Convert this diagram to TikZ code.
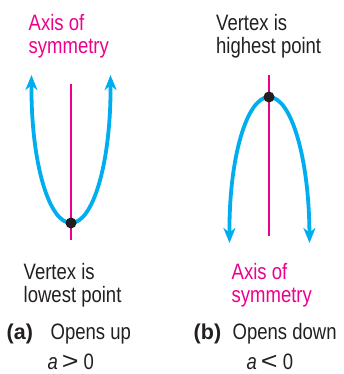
\documentclass[tikz,border=0pt]{standalone}
\usepackage{fontspec}
\setmainfont{Liberation Sans}
\newfontfamily\cf[FakeStretch=0.83]{Liberation Sans}
\usetikzlibrary{arrows.meta}
\definecolor{mag}{HTML}{EC008C}
\definecolor{cy}{HTML}{00AEEF}
\definecolor{ink}{HTML}{231F20}
\begin{document}
\begin{tikzpicture}[x=1pt,y=-1pt,
  txt/.style={anchor=base west, inner sep=0pt, font=\cf\fontsize{22.3}{23}\selectfont, text=ink},
  mtxt/.style={txt, text=mag},
  btxt/.style={txt, font=\bfseries\fontsize{21.5}{23}\selectfont},
  axisline/.style={draw=mag, line width=1.3pt},
  arm/.style={draw=cy, line width=3.8pt, -{Stealth[length=15pt,width=12pt,inset=4.5pt]}},
  vdot/.style={circle, fill=ink, inner sep=0pt, minimum size=11pt}]
\useasboundingbox (0,0) rectangle (344,374);

% ---- left parabola (opens up)
\coordinate (a1t) at (71,84);
\coordinate (a1b) at (71,240);
\draw[axisline] (a1t) -- (a1b);
\coordinate (v1) at (71,223);
\coordinate (t1l) at (31.5,75);
\coordinate (t1r) at (110.5,75);
\draw[arm] (v1) .. controls (49,223) and (31,163) .. (t1l);
\draw[arm] (v1) .. controls (93,223) and (111,163) .. (t1r);
\node[vdot] (d1) at (v1) {};

% ---- right parabola (opens down)
\coordinate (a2t) at (269,75);
\coordinate (a2b) at (269,236);
\draw[axisline] (a2t) -- (a2b);
\coordinate (v2) at (269,97);
\coordinate (t2l) at (229.5,243);
\coordinate (t2r) at (309.5,243);
\draw[arm] (v2) .. controls (247,97) and (229,157) .. (t2l);
\draw[arm] (v2) .. controls (291,97) and (309,157) .. (t2r);
\node[vdot] (d2) at (v2) {};

% ---- labels
\node[mtxt] (ax1) at (28.5,31) {Axis of};
\node[mtxt] (sy1) at (28.5,54) {symmetry};
\node[txt] (vx2) at (216,30.7) {Vertex is};
\node[txt] (hp2) at (216,53.5) {highest point};
\node[txt] (vx1) at (23.5,279.3) {Vertex is};
\node[txt] (lp1) at (23.5,302.5) {lowest point};
\node[mtxt] (ax2) at (231.5,279.3) {Axis of};
\node[mtxt] (sy2) at (231.5,302) {symmetry};

\node[btxt] (la) at (6.5,339.5) {(a)};
\node[txt] (ou) at (50.5,339.5) {Opens up};
\node[btxt] (lb) at (193.5,339.5) {(b)};
\node[txt] (od) at (232.5,339.5) {Opens down};
\node[txt] (c1) at (47.5,369) {{\itshape a}\hspace{4pt}\scalebox{1.55}[1.1]{>}\hspace{5pt}0};
\node[txt] (c2) at (246.5,369) {{\itshape a}\hspace{4pt}\scalebox{1.55}[1.1]{<}\hspace{5pt}0};
\end{tikzpicture}
\end{document}
